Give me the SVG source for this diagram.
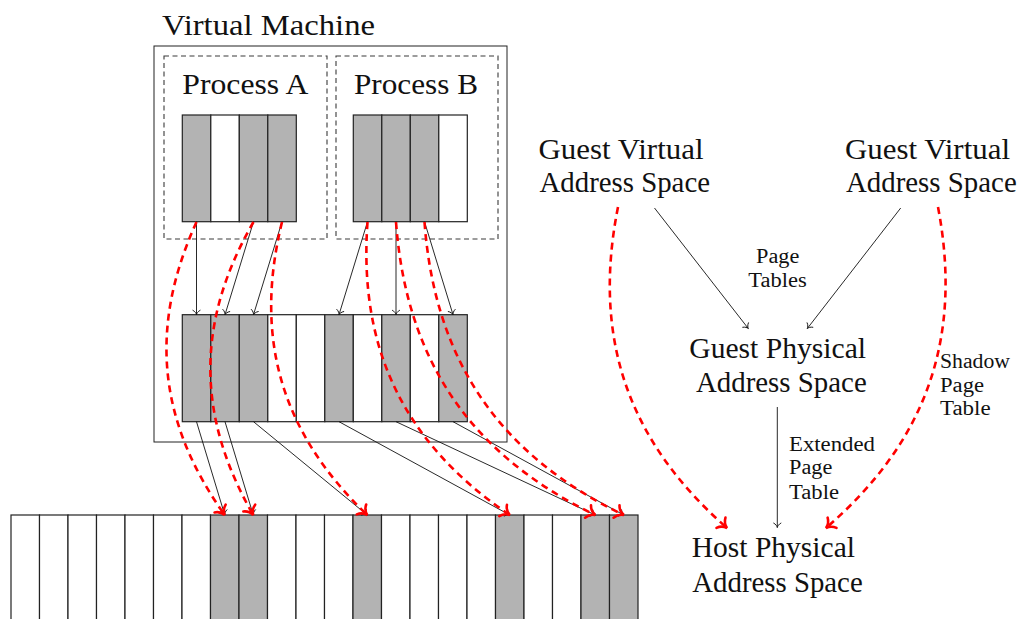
<svg xmlns="http://www.w3.org/2000/svg" width="1024" height="619" viewBox="0 0 1024 619">
  <style>
    .g { fill: #b3b3b3; stroke: #222; stroke-width: 1.2; }
    .w { fill: #ffffff; stroke: #222; stroke-width: 1.2; }
    .box { fill: none; stroke: #222; stroke-width: 1; }
    .dbox { fill: none; stroke: #3a3a3a; stroke-width: 1.1; stroke-dasharray: 5 3.5; }
    .big { font-family: "Liberation Serif", "Times New Roman", serif; font-size: 29px; fill: #111; }
    .small { font-family: "Liberation Serif", "Times New Roman", serif; font-size: 20px; fill: #111; }
    .map { fill: none; stroke: #111; stroke-width: 0.9; marker-end: url(#ah); }
    .shadow { fill: none; stroke: #ff0000; stroke-width: 2.6; stroke-dasharray: 7 5; marker-end: url(#rh); }
  </style>
  <defs>
    <marker id="ah" markerUnits="userSpaceOnUse" markerWidth="12" markerHeight="12" viewBox="-6 -6 12 12" refX="0" refY="0" orient="auto" overflow="visible">
      <path d="M-4.4,-3.6 C-3.3,-1.4 -1.3,-0.3 0,0 C-1.3,0.3 -3.3,1.4 -4.4,3.6" fill="none" stroke="#111" stroke-width="0.9" stroke-linecap="round"/>
    </marker>
    <marker id="rh" markerUnits="userSpaceOnUse" markerWidth="24" markerHeight="24" viewBox="-12 -12 24 24" refX="0" refY="0" orient="auto" overflow="visible">
      <path d="M-8,-6.8 C-6.2,-2.8 -2.8,-0.7 0,0 C-2.8,0.7 -6.2,2.8 -8,6.8" fill="none" stroke="#ff0000" stroke-width="2.6" stroke-linecap="round"/>
    </marker>
  </defs>

  <rect width="1024" height="619" fill="#ffffff"/>

  <!-- virtual machine frame -->
  <g id="virtual-machine">
    <rect class="box" x="154" y="46" width="353" height="396"/>
    <text class="big" x="162" y="35" textLength="213" lengthAdjust="spacingAndGlyphs">Virtual Machine</text>
  </g>

  <!-- process A page table -->
  <g id="process-a">
    <rect class="dbox" x="164" y="56" width="163" height="183"/>
    <text class="big" x="182.3" y="94" textLength="126" lengthAdjust="spacingAndGlyphs">Process A</text>
    <rect class="g" x="182.3" y="115" width="28.5" height="106.7"/>
    <rect class="w" x="210.8" y="115" width="28.5" height="106.7"/>
    <rect class="g" x="239.3" y="115" width="28.5" height="106.7"/>
    <rect class="g" x="267.8" y="115" width="28.5" height="106.7"/>
  </g>

  <!-- process B page table -->
  <g id="process-b">
    <rect class="dbox" x="336" y="56" width="162" height="183"/>
    <text class="big" x="354" y="94" textLength="124" lengthAdjust="spacingAndGlyphs">Process B</text>
    <rect class="g" x="353.3" y="115" width="28.5" height="106.7"/>
    <rect class="g" x="381.8" y="115" width="28.5" height="106.7"/>
    <rect class="g" x="410.3" y="115" width="28.5" height="106.7"/>
    <rect class="w" x="438.8" y="115" width="28.5" height="106.7"/>
  </g>

  <!-- guest physical frames -->
  <g id="guest-physical-frames">
    <rect class="g" x="182.3" y="314.7" width="28.5" height="107"/>
    <rect class="g" x="210.8" y="314.7" width="28.5" height="107"/>
    <rect class="g" x="239.3" y="314.7" width="28.5" height="107"/>
    <rect class="w" x="267.8" y="314.7" width="28.5" height="107"/>
    <rect class="w" x="296.3" y="314.7" width="28.5" height="107"/>
    <rect class="g" x="324.8" y="314.7" width="28.5" height="107"/>
    <rect class="w" x="353.3" y="314.7" width="28.5" height="107"/>
    <rect class="g" x="381.8" y="314.7" width="28.5" height="107"/>
    <rect class="w" x="410.3" y="314.7" width="28.5" height="107"/>
    <rect class="g" x="438.8" y="314.7" width="28.5" height="107"/>
  </g>

  <!-- host physical frames -->
  <g id="host-physical-frames">
    <rect class="w" x="11" y="515" width="28.5" height="110"/>
    <rect class="w" x="39.5" y="515" width="28.5" height="110"/>
    <rect class="w" x="68" y="515" width="28.5" height="110"/>
    <rect class="w" x="96.5" y="515" width="28.5" height="110"/>
    <rect class="w" x="125" y="515" width="28.5" height="110"/>
    <rect class="w" x="153.5" y="515" width="28.5" height="110"/>
    <rect class="w" x="182" y="515" width="28.5" height="110"/>
    <rect class="g" x="210.5" y="515" width="28.5" height="110"/>
    <rect class="g" x="239" y="515" width="28.5" height="110"/>
    <rect class="w" x="267.5" y="515" width="28.5" height="110"/>
    <rect class="w" x="296" y="515" width="28.5" height="110"/>
    <rect class="w" x="324.5" y="515" width="28.5" height="110"/>
    <rect class="g" x="353" y="515" width="28.5" height="110"/>
    <rect class="w" x="381.5" y="515" width="28.5" height="110"/>
    <rect class="w" x="410" y="515" width="28.5" height="110"/>
    <rect class="w" x="438.5" y="515" width="28.5" height="110"/>
    <rect class="w" x="467" y="515" width="28.5" height="110"/>
    <rect class="g" x="495.5" y="515" width="28.5" height="110"/>
    <rect class="w" x="524" y="515" width="28.5" height="110"/>
    <rect class="w" x="552.5" y="515" width="28.5" height="110"/>
    <rect class="g" x="581" y="515" width="28.5" height="110"/>
    <rect class="g" x="609.5" y="515" width="28.5" height="110"/>
  </g>

  <!-- address space labels -->
  <g id="guest-virtual-1">
    <text class="big" x="538.5" y="158.5" textLength="165" lengthAdjust="spacingAndGlyphs">Guest Virtual</text>
    <text class="big" x="539.5" y="191.7" textLength="170.5" lengthAdjust="spacingAndGlyphs">Address Space</text>
  </g>
  <g id="guest-virtual-2">
    <text class="big" x="845" y="158.5" textLength="165" lengthAdjust="spacingAndGlyphs">Guest Virtual</text>
    <text class="big" x="846" y="191.7" textLength="170.7" lengthAdjust="spacingAndGlyphs">Address Space</text>
  </g>
  <g id="guest-physical">
    <text class="big" x="689.3" y="358.3" textLength="176.7" lengthAdjust="spacingAndGlyphs">Guest Physical</text>
    <text class="big" x="696" y="391.7" textLength="170.7" lengthAdjust="spacingAndGlyphs">Address Space</text>
  </g>
  <g id="host-physical">
    <text class="big" x="691.7" y="557.3" textLength="163.3" lengthAdjust="spacingAndGlyphs">Host Physical</text>
    <text class="big" x="692.3" y="591.7" textLength="170.4" lengthAdjust="spacingAndGlyphs">Address Space</text>
  </g>

  <!-- mappings -->
  <g id="connectors">
    <!-- guest page tables: process pages to guest frames -->
    <path class="map" d="M196.5,221.7 L196.5,314.7"/>
    <path class="map" d="M253.5,221.7 L225,314.7"/>
    <path class="map" d="M282,221.7 L253.5,314.7"/>
    <path class="map" d="M367.5,221.7 L339,314.7"/>
    <path class="map" d="M396,221.7 L396,314.7"/>
    <path class="map" d="M424.5,221.7 L453,314.7"/>
    <!-- extended page table: guest frames to host frames -->
    <path class="map" d="M196.5,421.7 L224.75,515"/>
    <path class="map" d="M225,421.7 L253.25,515"/>
    <path class="map" d="M253.5,421.7 L367.25,515"/>
    <path class="map" d="M339,421.7 L509.75,515"/>
    <path class="map" d="M396,421.7 L595.25,515"/>
    <path class="map" d="M453,421.7 L623.75,515"/>
    <!-- summary on the right -->
    <path class="map" d="M654.5,208 L748.3,328.5"/>
    <path class="map" d="M900.7,208 L807.3,328.5"/>
    <path class="map" d="M777.3,407 L777.3,527.5"/>
    <!-- shadow page table: direct process-to-host mapping -->
    <path class="shadow" d="M196.5,222 C148.72,326.87 157.82,421.19 224.75,515"/>
    <path class="shadow" d="M253.5,222 C196.06,321.29 195.98,415.61 253.25,515"/>
    <path class="shadow" d="M282,222 C253.55,338.03 280.99,432.35 367.25,515"/>
    <path class="shadow" d="M367.5,222 C358.37,349.19 404.16,443.5 509.75,515"/>
    <path class="shadow" d="M396,222 C406.2,360.34 470.34,454.67 595.25,515"/>
    <path class="shadow" d="M424.5,222 C434.7,360.34 498.84,454.67 623.75,515"/>
    <path class="shadow" d="M618,207 C592.1,337.15 627.23,440.51 727,528"/>
    <path class="shadow" d="M938,207 C962.86,337.75 926.8,441.1 826,528"/>
  </g>

  <!-- mapping labels -->
  <g id="label-page-tables">
    <text class="small" x="756" y="262.5" textLength="43.3" lengthAdjust="spacingAndGlyphs">Page</text>
    <text class="small" x="748.3" y="286.5" textLength="58.4" lengthAdjust="spacingAndGlyphs">Tables</text>
  </g>
  <g id="label-shadow">
    <text class="small" x="940" y="368.3" textLength="70" lengthAdjust="spacingAndGlyphs">Shadow</text>
    <text class="small" x="940" y="391.7" textLength="44" lengthAdjust="spacingAndGlyphs">Page</text>
    <text class="small" x="940" y="415" textLength="50.7" lengthAdjust="spacingAndGlyphs">Table</text>
  </g>
  <g id="label-extended">
    <text class="small" x="789" y="450.7" textLength="86" lengthAdjust="spacingAndGlyphs">Extended</text>
    <text class="small" x="789" y="474" textLength="43.3" lengthAdjust="spacingAndGlyphs">Page</text>
    <text class="small" x="789" y="499" textLength="50" lengthAdjust="spacingAndGlyphs">Table</text>
  </g>
</svg>
